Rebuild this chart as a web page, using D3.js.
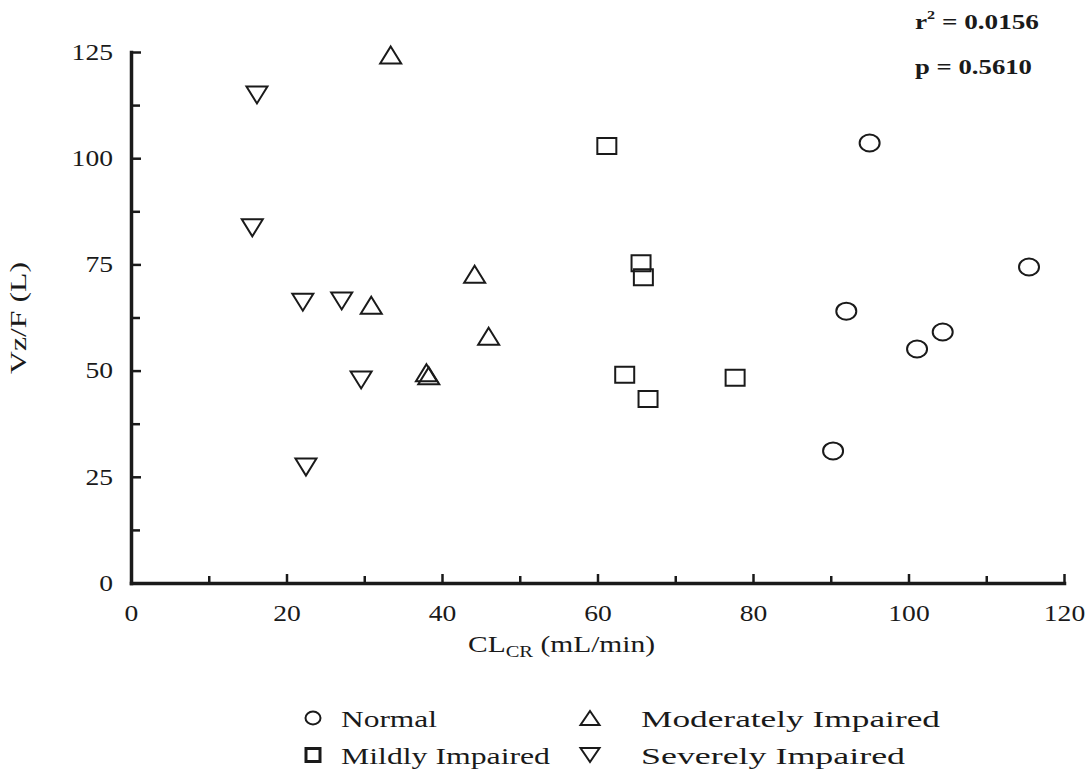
<!DOCTYPE html>
<html><head><meta charset="utf-8">
<script src="https://cdn.jsdelivr.net/npm/d3@7"></script>
<style>
body{margin:0;background:#fff}
svg text{font-family:"Liberation Serif","Times New Roman",serif;fill:#1a1a1a}
</style>
</head><body>
<svg id="c" width="1085" height="775"></svg>
<script>
// ---- data ----
const groups = ["Normal", "Mildly Impaired", "Moderately Impaired", "Severely Impaired"];
const normalX   = [95.0, 115.5, 92.0, 104.4, 101.1, 90.3];
const normalY   = [103.6, 74.4, 64.0, 59.1, 55.1, 31.1];
const mildX     = [61.2, 65.6, 65.9, 63.5, 66.5, 77.7];
const mildY     = [102.9, 75.3, 72.0, 49.0, 43.3, 48.3];
const moderateX = [33.4, 44.2, 30.9, 46.0, 38.0, 38.3];
const moderateY = [124.3, 72.7, 65.4, 58.1, 49.5, 48.8];
const severeX   = [16.2, 15.6, 22.1, 27.1, 29.6, 22.5];
const severeY   = [114.9, 83.6, 66.1, 66.4, 47.8, 27.3];
const xTicks = [0, 20, 40, 60, 80, 100, 120];
const xMinorTicks = [10, 30, 50, 70, 90, 110];
const yTicks = [0, 25, 50, 75, 100, 125];
const yMinorTicks = [12.5, 37.5, 62.5, 87.5, 112.5];
const xTitle = ["CL", "CR", " (mL/min)"];
const yTitle = "Vz/F (L)";
const statR2 = "0.0156";
const statP = "0.5610";

// ---- layout ----
const svg = d3.select("#c");
const x = d3.scaleLinear().domain([0, 120]).range([131, 1064]);
const y = d3.scaleLinear().domain([0, 125]).range([583, 52]);
const ink = "#1a1a1a";
const K = 1.2; // horizontal text stretch

function markerPath(kind, w, h) {
  const p = d3.path();
  if (kind === "circle") {
    const rx = w / 2, ry = h / 2;
    return `M${-rx},0A${rx},${ry} 0 1,0 ${rx},0A${rx},${ry} 0 1,0 ${-rx},0Z`;
  } else if (kind === "square") {
    p.rect(-w / 2, -h / 2, w, h);
  } else if (kind === "up") {
    p.moveTo(0, -h / 2); p.lineTo(w / 2, h / 2); p.lineTo(-w / 2, h / 2); p.closePath();
  } else {
    p.moveTo(-w / 2, -h / 2); p.lineTo(w / 2, -h / 2); p.lineTo(0, h / 2); p.closePath();
  }
  return p.toString();
}
const kinds = ["circle", "square", "up", "down"];
const sizes = {circle: [20, 17], square: [19, 16], up: [21, 17], down: [21, 17]};
const series = [
  {kind: "circle", xs: normalX, ys: normalY},
  {kind: "square", xs: mildX, ys: mildY},
  {kind: "up", xs: moderateX, ys: moderateY},
  {kind: "down", xs: severeX, ys: severeY}
];

// ---- axes ----
const gy = svg.append("g").attr("transform", `translate(${x(0)},0)`);
gy.call(d3.axisLeft(y).tickValues(yTicks.concat(yMinorTicks)).tickSize(-10).tickSizeOuter(0)
  .tickPadding(18 / K).tickFormat(d => yTicks.includes(d) ? d : ""));
const gx = svg.append("g").attr("transform", `translate(0,${y(0)})`);
gx.call(d3.axisBottom(x).tickValues(xTicks.concat(xMinorTicks)).tickSize(-9).tickSizeOuter(0)
  .tickPadding(22).tickFormat(d => xTicks.includes(d) ? d : ""));

[gy, gx].forEach(g => {
  g.select(".domain").attr("stroke", ink).attr("stroke-width", 3.5).attr("stroke-linecap", "square");
  g.selectAll(".tick line").attr("stroke", ink).attr("stroke-width", 2.5);
  g.selectAll(".tick text").attr("font-size", 23).attr("fill", "#1a1a1a")
    .attr("font-family", '"Liberation Serif",serif')
    .attr("transform", `scale(${K},1)`);
});
gy.selectAll(".tick").filter(d => !yTicks.includes(d)).select("line").attr("x2", 9);
gx.selectAll(".tick").filter(d => !xTicks.includes(d)).select("line").attr("y2", -7);

// ---- points ----
series.forEach(s => {
  const [w, h] = sizes[s.kind];
  svg.append("g").selectAll("path").data(s.xs.map((v, i) => [v, s.ys[i]])).join("path")
    .attr("d", markerPath(s.kind, w, h))
    .attr("transform", d => `translate(${x(d[0])},${y(d[1])})`)
    .attr("fill", "none").attr("stroke", ink).attr("stroke-width", 2);
});

// ---- titles ----
svg.append("text").attr("transform", "translate(26,318) rotate(-90)")
  .attr("text-anchor", "middle").attr("font-size", 23)
  .attr("textLength", 112).attr("lengthAdjust", "spacingAndGlyphs").text(yTitle);

const xt = svg.append("text").attr("x", 468).attr("y", 652).attr("font-size", 23)
  .attr("textLength", 187).attr("lengthAdjust", "spacingAndGlyphs");
xt.append("tspan").text(xTitle[0]);
xt.append("tspan").attr("font-size", 16).attr("dy", 5).text(xTitle[1]);
xt.append("tspan").attr("dy", -5).text(xTitle[2]);

// ---- stats ----
const r2 = svg.append("text").attr("x", 915).attr("y", 29).attr("font-size", 22).attr("font-weight", "bold")
  .attr("textLength", 124).attr("lengthAdjust", "spacingAndGlyphs");
r2.append("tspan").text("r");
r2.append("tspan").attr("font-size", 13).attr("dy", -10).text("2");
r2.append("tspan").attr("dy", 10).text(" = " + statR2);
svg.append("text").attr("x", 915).attr("y", 74).attr("font-size", 22).attr("font-weight", "bold")
  .attr("textLength", 117).attr("lengthAdjust", "spacingAndGlyphs").text("p = " + statP);

// ---- legend ----
const legPos = [[313, 718, 341, 727, 96], [313, 755, 341, 764, 209], [590, 718, 641, 727, 299], [590, 755, 641, 764, 264]];
const legSize = {circle: [15, 13], square: [14, 13], up: [19, 14], down: [19, 14]};
groups.forEach((g, i) => {
  const k = kinds[i], p = legPos[i];
  svg.append("path").attr("d", markerPath(k, legSize[k][0], legSize[k][1]))
    .attr("transform", `translate(${p[0]},${p[1]})`)
    .attr("fill", "none").attr("stroke", ink).attr("stroke-width", k === "square" ? 3 : 2);
  svg.append("text").attr("x", p[2]).attr("y", p[3]).attr("font-size", 24)
    .attr("textLength", p[4]).attr("lengthAdjust", "spacingAndGlyphs").text(g);
});
</script>
</body></html>
